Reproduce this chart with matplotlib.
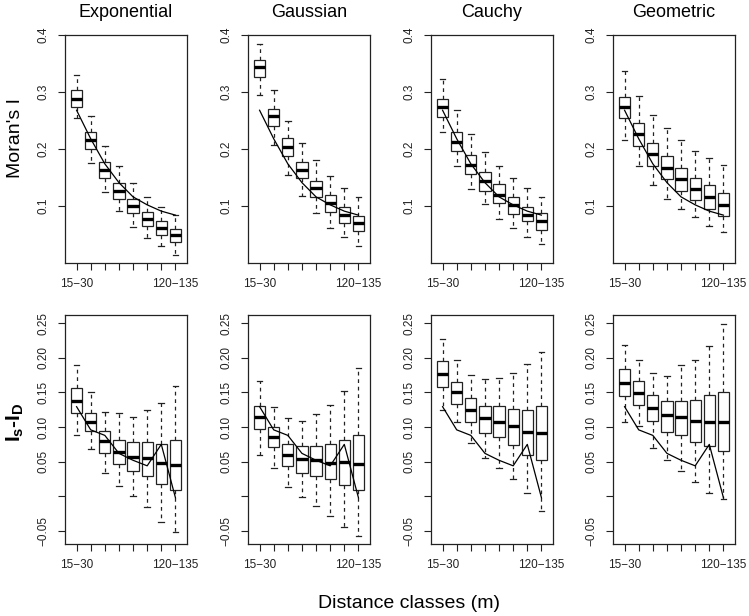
import matplotlib
matplotlib.use('Agg')
import matplotlib.pyplot as plt

plt.rcParams['font.family'] = ['Liberation Sans', 'DejaVu Sans']
plt.rcParams['mathtext.fontset'] = 'custom'
plt.rcParams['mathtext.rm'] = 'Liberation Sans'
plt.rcParams['mathtext.bf'] = 'Liberation Sans:bold'

models = ['Exponential', 'Gaussian', 'Cauchy', 'Geometric']
classes = ['15−30', '30−45', '45−60', '60−75', '75−90', '90−105', '105−120', '120−135']
# only first and last labels survive in the original (R drops overlapping ones)
shown = ['15−30', '', '', '', '', '', '', '120−135']

# observed values (line), shared by all panels of a row
obs_moran = [0.268, 0.218, 0.174, 0.141, 0.116, 0.102, 0.091, 0.084]
obs_diff = [0.1295, 0.096, 0.088, 0.062, 0.052, 0.044, 0.075, -0.002]

# top row: Moran's I simulated, per model: whisker low, q1, median, q3, whisker high
moran_lo = [
    [0.254, 0.176, 0.125, 0.092, 0.063, 0.043, 0.029, 0.014],
    [0.295, 0.207, 0.154, 0.118, 0.087, 0.062, 0.045, 0.030],
    [0.230, 0.170, 0.130, 0.103, 0.078, 0.062, 0.046, 0.033],
    [0.216, 0.171, 0.137, 0.112, 0.095, 0.080, 0.065, 0.054],
]
moran_q1 = [
    [0.274, 0.200, 0.149, 0.113, 0.087, 0.065, 0.050, 0.036],
    [0.326, 0.241, 0.187, 0.149, 0.116, 0.090, 0.071, 0.056],
    [0.257, 0.197, 0.156, 0.127, 0.105, 0.086, 0.073, 0.058],
    [0.254, 0.206, 0.170, 0.147, 0.126, 0.110, 0.095, 0.083],
]
moran_med = [
    [0.288, 0.215, 0.163, 0.127, 0.100, 0.078, 0.062, 0.049],
    [0.343, 0.258, 0.204, 0.164, 0.131, 0.106, 0.085, 0.070],
    [0.273, 0.213, 0.172, 0.143, 0.119, 0.102, 0.085, 0.073],
    [0.273, 0.226, 0.191, 0.167, 0.147, 0.129, 0.115, 0.102],
]
moran_q3 = [
    [0.304, 0.229, 0.177, 0.141, 0.112, 0.090, 0.073, 0.060],
    [0.356, 0.271, 0.219, 0.178, 0.144, 0.119, 0.099, 0.083],
    [0.288, 0.229, 0.189, 0.159, 0.139, 0.115, 0.099, 0.087],
    [0.292, 0.246, 0.211, 0.187, 0.166, 0.150, 0.137, 0.123],
]
moran_hi = [
    [0.330, 0.258, 0.206, 0.170, 0.140, 0.116, 0.099, 0.084],
    [0.385, 0.304, 0.250, 0.211, 0.180, 0.153, 0.132, 0.115],
    [0.323, 0.268, 0.226, 0.194, 0.171, 0.149, 0.131, 0.116],
    [0.337, 0.293, 0.259, 0.236, 0.216, 0.197, 0.185, 0.172],
]

# bottom row: Is - ID
diff_lo = [
    [0.089, 0.068, 0.033, 0.015, 0.001, -0.016, -0.037, -0.051],
    [0.060, 0.041, 0.014, -0.001, -0.014, -0.028, -0.045, -0.057],
    [0.124, 0.107, 0.077, 0.056, 0.041, 0.025, 0.004, -0.022],
    [0.108, 0.101, 0.070, 0.053, 0.037, 0.020, 0.005, -0.004],
]
diff_q1 = [
    [0.120, 0.094, 0.062, 0.047, 0.037, 0.029, 0.018, 0.009],
    [0.097, 0.071, 0.044, 0.034, 0.030, 0.025, 0.016, 0.009],
    [0.158, 0.134, 0.108, 0.092, 0.085, 0.074, 0.060, 0.053],
    [0.145, 0.132, 0.109, 0.093, 0.089, 0.078, 0.072, 0.066],
]
diff_med = [
    [0.138, 0.107, 0.080, 0.064, 0.057, 0.055, 0.048, 0.045],
    [0.114, 0.085, 0.060, 0.054, 0.052, 0.048, 0.049, 0.047],
    [0.176, 0.150, 0.125, 0.113, 0.107, 0.102, 0.093, 0.091],
    [0.164, 0.149, 0.128, 0.117, 0.114, 0.109, 0.107, 0.107],
]
diff_q3 = [
    [0.156, 0.121, 0.095, 0.082, 0.079, 0.078, 0.075, 0.081],
    [0.130, 0.100, 0.076, 0.072, 0.073, 0.075, 0.081, 0.088],
    [0.196, 0.165, 0.142, 0.131, 0.130, 0.126, 0.124, 0.131],
    [0.184, 0.166, 0.146, 0.137, 0.138, 0.139, 0.146, 0.150],
]
diff_hi = [
    [0.190, 0.150, 0.122, 0.120, 0.115, 0.125, 0.135, 0.159],
    [0.167, 0.129, 0.113, 0.109, 0.119, 0.132, 0.152, 0.186],
    [0.228, 0.197, 0.175, 0.169, 0.171, 0.178, 0.191, 0.208],
    [0.219, 0.197, 0.178, 0.174, 0.190, 0.197, 0.217, 0.249],
]

W, H = 749, 616
fig = plt.figure(figsize=(W / 100, H / 100), dpi=100)

lefts = [65, 248, 431, 613]
pw = 122
rows = [(35, 263), (315, 544)]
pos = list(range(1, 9))


def stats(lo, q1, med, q3, hi):
    return [dict(whislo=a, q1=b, med=c, q3=d, whishi=e, fliers=[])
            for a, b, c, d, e in zip(lo, q1, med, q3, hi)]


def panel(ax, st, line):
    ax.bxp(st, positions=pos, widths=0.8, capwidths=0.4, patch_artist=True,
           showfliers=False,
           boxprops=dict(facecolor='white', edgecolor='#222222', linewidth=0.9),
           medianprops=dict(color='black', linewidth=2.4, solid_capstyle='butt'),
           whiskerprops=dict(color='#222222', linewidth=0.9, linestyle=(0, (3, 3))),
           capprops=dict(color='#222222', linewidth=0.9))
    ax.plot(pos, line, color='black', linewidth=0.9, zorder=5)
    ax.set_xlim(0.18, 8.82)
    ax.set_xticks(pos)
    ax.set_xticklabels(shown)
    for s in ax.spines.values():
        s.set_color('#222222')
        s.set_linewidth(0.9)
    ax.tick_params(length=5, width=0.8, color='#222222', labelsize=8.5,
                   labelcolor='#222222', pad=6)
    ax.tick_params(axis='y', labelrotation=90)


for i, name in enumerate(models):
    x0 = lefts[i]
    # top row
    t, b = rows[0]
    ax = fig.add_axes([x0 / W, 1 - b / H, pw / W, (b - t) / H])
    panel(ax, stats(moran_lo[i], moran_q1[i], moran_med[i], moran_q3[i], moran_hi[i]), obs_moran)
    ax.set_ylim(0, 0.4)
    ax.set_yticks([0.1, 0.2, 0.3, 0.4])
    ax.set_yticklabels(['0.1', '0.2', '0.3', '0.4'], va='center')
    fig.text((x0 + pw / 2) / W, 1 - 12.5 / H, name, ha='center', va='center', fontsize=13)

    # bottom row
    t, b = rows[1]
    ax = fig.add_axes([x0 / W, 1 - b / H, pw / W, (b - t) / H])
    panel(ax, stats(diff_lo[i], diff_q1[i], diff_med[i], diff_q3[i], diff_hi[i]), obs_diff)
    ax.set_ylim(-0.069, 0.262)
    ax.set_yticks([-0.05, 0.0, 0.05, 0.10, 0.15, 0.20, 0.25])
    ax.set_yticklabels(['−0.05', '', '0.05', '0.10', '0.15', '0.20', '0.25'], va='center')

fig.text(15 / W, 1 - 137.5 / H, "Moran's I", rotation=90, ha='center', va='center', fontsize=14)
fig.text(15 / W, 1 - 422 / H, r'$\mathbf{I_{s}}$-$\mathbf{I_{D}}$', rotation=90,
         ha='center', va='center', fontsize=15, fontweight='bold')
fig.text(409 / W, 1 - 603 / H, 'Distance classes (m)', ha='center', va='center', fontsize=14)

fig.savefig('out.png', dpi=100)
